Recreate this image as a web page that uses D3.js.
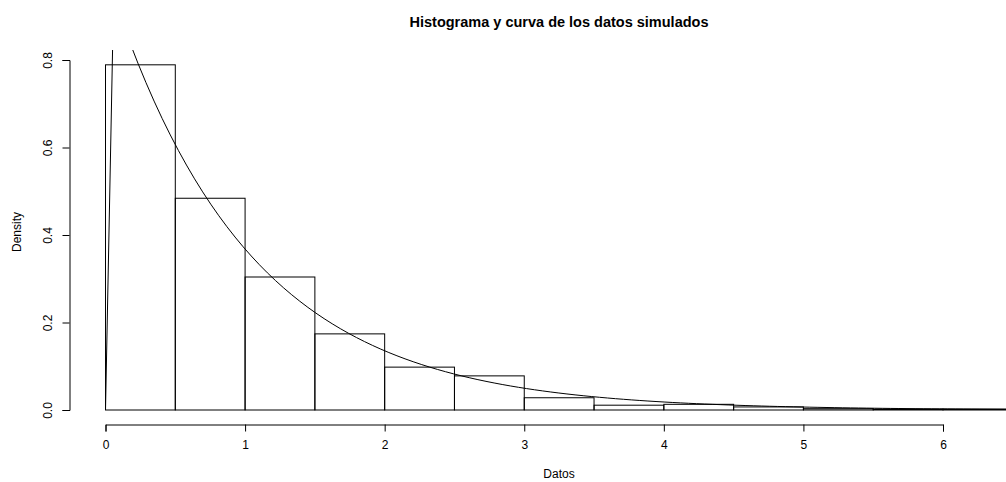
<!DOCTYPE html>
<html><head><meta charset="utf-8">
<script src="https://cdn.jsdelivr.net/npm/d3@7"></script>
<style>
html,body{margin:0;padding:0;background:#fff;}
svg{display:block;font-family:"Liberation Sans",Arial,Helvetica,sans-serif;}
</style></head>
<body><svg id="chart" width="1006" height="482"></svg>
<script>
// Histogram bins (left break, right break) and densities
const binStarts = [0, 0.5, 1, 1.5, 2, 2.5, 3, 3.5, 4, 4.5, 5, 5.5, 6, 6.5];
const binWidth = 0.5;
const densities = [0.789, 0.484, 0.304, 0.174, 0.098, 0.078, 0.028, 0.011, 0.013, 0.007, 0.003, 0.002, 0.002, 0.001];
const xTicks = [0, 1, 2, 3, 4, 5, 6];
const yTicks = [0, 0.2, 0.4, 0.6, 0.8];
const yTickLabels = ["0.0", "0.2", "0.4", "0.6", "0.8"];
const titleText = "Histograma y curva de los datos simulados";
const xLabel = "Datos";
const yLabel = "Density";
// Theoretical exponential density (rate 1) overlaid on the histogram
const rate = 1;
const curveStep = 0.058;
const curveMax = 7.2;

const svg = d3.select("#chart");
const plot = {left: 69.5, right: 1042, top: 50, bottom: 424.5};
const x = d3.scaleLinear().domain([0, 6]).range([105.5, 943]);
const y = d3.scaleLinear().domain([0, 0.8]).range([410, 60]);

svg.append("defs").append("clipPath").attr("id", "clip")
  .append("rect").attr("x", plot.left).attr("y", plot.top)
  .attr("width", plot.right - plot.left).attr("height", plot.bottom - plot.top);

const g = svg.append("g").attr("clip-path", "url(#clip)");

// bars
g.selectAll("rect.bar").data(binStarts).enter().append("rect")
  .attr("class", "bar")
  .attr("x", d => x(d))
  .attr("width", d => x(d + binWidth) - x(d))
  .attr("y", (d, i) => y(densities[i]))
  .attr("height", (d, i) => y(0) - y(densities[i]))
  .attr("fill", "none").attr("stroke", "#000").attr("stroke-width", 1);

// curve: starts at (0,0) then follows the density
const curvePts = [[0, 0]];
for (let i = 1; i * curveStep <= curveMax; i++) {
  const xv = i * curveStep;
  curvePts.push([xv, rate * Math.exp(-rate * xv)]);
}
g.append("path").datum(curvePts)
  .attr("d", d3.line().x(d => x(d[0])).y(d => y(d[1])))
  .attr("fill", "none").attr("stroke", "#000").attr("stroke-width", 1);

// x axis
const xAxis = svg.append("g").attr("transform", `translate(0,${plot.bottom})`)
  .call(d3.axisBottom(x).tickValues(xTicks).tickFormat(d3.format("d")).tickSize(7).tickPadding(9));
xAxis.select(".domain").attr("stroke", "#000");
xAxis.selectAll("text").attr("font-size", 12).attr("fill", "#000")
  .attr("font-family", "Liberation Sans, Arial, sans-serif");

// y axis
const yAxis = svg.append("g").attr("transform", `translate(${plot.left},0)`)
  .call(d3.axisLeft(y).tickValues(yTicks).tickFormat((d, i) => yTickLabels[i]).tickSize(7));
yAxis.select(".domain").attr("stroke", "#000");
yAxis.selectAll(".tick text")
  .attr("font-size", 12).attr("fill", "#000")
  .attr("font-family", "Liberation Sans, Arial, sans-serif")
  .attr("x", null).attr("dy", null)
  .attr("text-anchor", "middle")
  .attr("dominant-baseline", "central")
  .attr("transform", "translate(-22,0) rotate(-90)");

// title
svg.append("text").attr("x", 559).attr("y", 27)
  .attr("text-anchor", "middle").attr("font-weight", "bold").attr("font-size", 14.5)
  .text(titleText);
// x label
svg.append("text").attr("x", 559).attr("y", 478)
  .attr("text-anchor", "middle").attr("font-size", 12).text(xLabel);
// y label
svg.append("text").attr("transform", "translate(21,232) rotate(-90)")
  .attr("text-anchor", "middle").attr("font-size", 12).text(yLabel);
</script>
</body></html>
